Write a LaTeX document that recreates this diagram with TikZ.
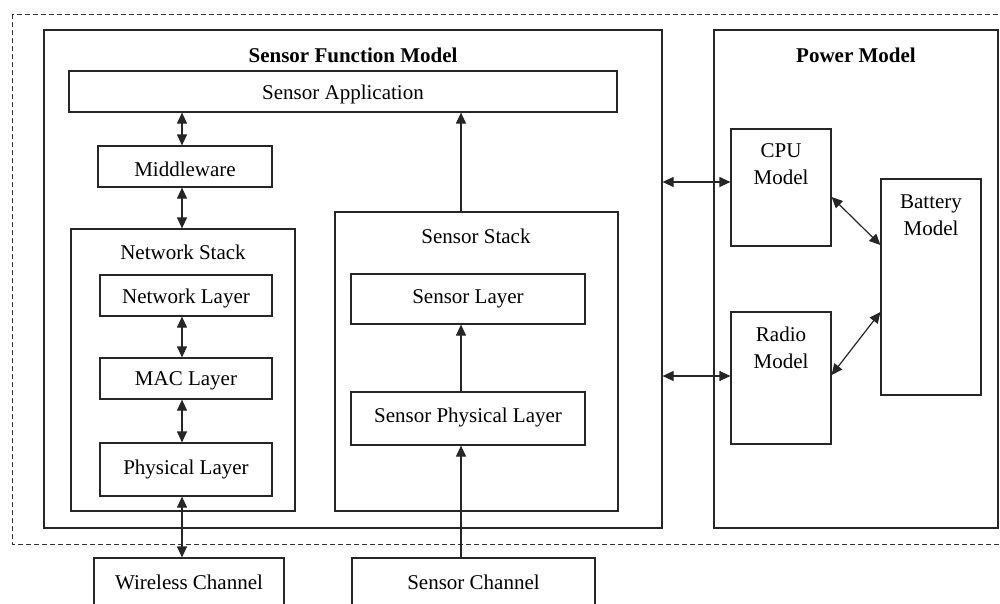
\documentclass[tikz,border=0pt]{standalone}
\usepackage{fontspec}
\setmainfont{Liberation Serif}
\usetikzlibrary{arrows.meta}
\tikzset{
  box/.style={draw=black!85, line width=1.2pt, inner sep=0pt, anchor=center},
  lbl/.style={font=\fontsize{21}{27}\selectfont, inner sep=0pt, align=center, anchor=center},
  ttl/.style={font=\bfseries\fontsize{21}{27}\selectfont, inner sep=0pt, anchor=center},
  conn/.style={draw=black!85, line width=1.2pt},
  tip/.tip={Triangle[length=11pt,width=10pt]},
  dbl/.style={conn, tip-tip},
  one/.style={conn, -tip}
}
\begin{document}
\begin{tikzpicture}[x=1pt,y=-1pt]
\useasboundingbox (0,0) rectangle (1000,603);
\clip (0,0) rectangle (1000,603);
\fill[white] (0,0) rectangle (1000,603);
% outer dashed frame
\draw[black!80, line width=0.8pt, dash pattern=on 5pt off 3pt] (12,14) rectangle (1015,544);
% main boxes
\node[box, minimum width=618pt, minimum height=498pt] (sfm) at (353,279) {};
\node[box, minimum width=284pt, minimum height=498pt] (pm) at (856,279) {};
\node[ttl] (sfmt) at (353,55) {Sensor Function Model};
\node[ttl] (pmt) at (856,55) {Power Model};
% sensor function model
\node[box, minimum width=548pt, minimum height=41pt] (sa) at (343,91.5) {};
\node[lbl] at (343,94) {Sensor Application};
\node[box, minimum width=174pt, minimum height=41pt] (mw) at (185,166.5) {};
\node[lbl] at (185,169) {Middleware};
\node[box, minimum width=224pt, minimum height=282pt] (ns) at (183,370) {};
\node[lbl] (nst) at (183,252) {Network Stack};
\node[box, minimum width=172pt, minimum height=41pt] (nl) at (186,295.5) {};
\node[lbl] at (186,298) {Network Layer};
\node[box, minimum width=172pt, minimum height=41pt] (mac) at (186,378.5) {};
\node[lbl] at (186,381) {MAC Layer};
\node[box, minimum width=172pt, minimum height=53pt] (phy) at (186,469.5) {};
\node[lbl] at (186,469) {Physical Layer};
\node[box, minimum width=283pt, minimum height=299pt] (ss) at (476.5,361.5) {};
\node[lbl] (sst) at (476,236) {Sensor Stack};
\node[box, minimum width=234pt, minimum height=50pt] (sl) at (468,299) {};
\node[lbl] at (468,299) {Sensor Layer};
\node[box, minimum width=234pt, minimum height=53pt] (spl) at (468,418.5) {};
\node[lbl] at (468,417) {Sensor Physical Layer};
% channels
\node[box, minimum width=190pt, minimum height=62pt] (wc) at (189,589) {};
\node[lbl] at (189,582) {Wireless Channel};
\node[box, minimum width=243pt, minimum height=62pt] (sc) at (473.5,589) {};
\node[lbl] at (473.5,582) {Sensor Channel};
% power model
\node[box, minimum width=100pt, minimum height=117pt] (cpu) at (781,187.5) {};
\node[lbl] at (781,164) {CPU\\Model};
\node[box, minimum width=100pt, minimum height=216pt] (bat) at (931,287) {};
\node[lbl] at (931,215) {Battery\\Model};
\node[box, minimum width=100pt, minimum height=132pt] (rad) at (781,378) {};
\node[lbl] at (781,348) {Radio\\Model};
% connectors
\coordinate (ax) at (182,0);
\coordinate (sx) at (461,0);
\draw[dbl] (sa.south -| ax) -- (mw.north -| ax);
\draw[dbl] (mw.south -| ax) -- (ns.north -| ax);
\draw[dbl] (nl.south -| ax) -- (mac.north -| ax);
\draw[dbl] (mac.south -| ax) -- (phy.north -| ax);
\draw[dbl] (phy.south -| ax) -- (wc.north -| ax);
\draw[one] (ss.north -| sx) -- (sa.south -| sx);
\draw[one] (spl.north -| sx) -- (sl.south -| sx);
\draw[one] (sc.north -| sx) -- (spl.south -| sx);
\draw[dbl] (sfm.east |- 0,182) -- (cpu.west |- 0,182);
\draw[dbl] (sfm.east |- 0,376) -- (rad.west |- 0,376);
\draw[dbl] (cpu.east |- 0,197) -- (bat.west |- 0,245);
\draw[dbl] (rad.east |- 0,375) -- (bat.west |- 0,312);
\end{tikzpicture}
\end{document}
